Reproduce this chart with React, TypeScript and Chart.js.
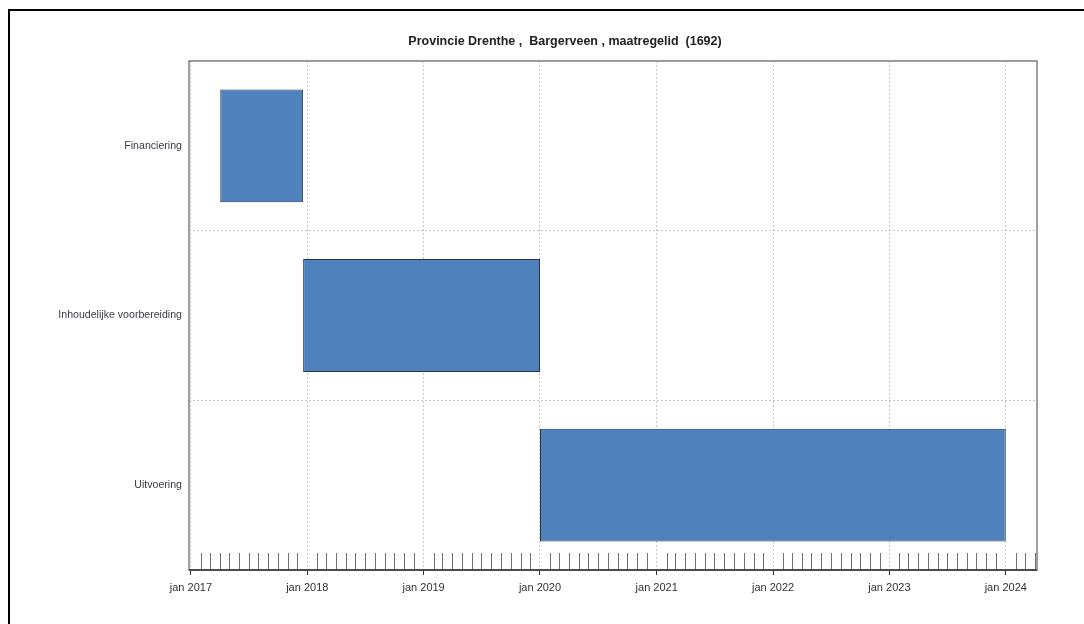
import React, { useEffect, useRef } from "react";
import { Chart, registerables } from "chart.js";

Chart.register(...registerables);

const TITLE = "Provincie Drenthe ,  Bargerveen , maatregelid  (1692)";
const categories = ["Financiering", "Inhoudelijke voorbereiding", "Uitvoering"];
const startDates = ["2017-04-03", "2017-12-19", "2020-01-01"];
const endDates = ["2017-12-19", "2020-01-01", "2024-01-01"];
const tickYears = [2017, 2018, 2019, 2020, 2021, 2022, 2023, 2024];
const tickMonthName = "jan";
const axisStart = "2016-12-26";
const axisEnd = "2024-04-08";

const ORIGIN = Date.UTC(2017, 0, 1);
const DAY = 86400000;
const toDays = (s: string) => (Date.parse(s + "T00:00:00Z") - ORIGIN) / DAY;
const ymToDays = (y: number, m: number) => (Date.UTC(y, m, 1) - ORIGIN) / DAY;

const FONT = "Arial, 'Liberation Sans', sans-serif";

const LEFT_PAD = 20;
const RIGHT_PAD = 47;
const TOP_PAD = 61;
const PLOT_LEFT = 189;

const decorPlugin = {
  id: "decor",
  afterDatasetsDraw(chart: any) {
    const xs = chart.scales.x;
    const area = chart.chartArea;
    const ctx = chart.ctx;
    ctx.save();
    ctx.strokeStyle = "#707070";
    ctx.lineWidth = 1;
    ctx.beginPath();
    for (let y = tickYears[0] - 1; y <= tickYears[tickYears.length - 1]; y++) {
      for (let m = 1; m < 12; m++) {
        const v = ymToDays(y, m);
        if (v < xs.min || v > xs.max) continue;
        const px = Math.round(xs.getPixelForValue(v)) + 0.5;
        ctx.moveTo(px, area.bottom - 17);
        ctx.lineTo(px, area.bottom);
      }
    }
    ctx.stroke();
    ctx.restore();
  },
  afterDraw(chart: any) {
    const a = chart.chartArea;
    const ctx = chart.ctx;
    ctx.save();
    ctx.strokeStyle = "#808080";
    ctx.lineWidth = 1.5;
    ctx.strokeRect(a.left, a.top, a.right - a.left, a.bottom - a.top);
    ctx.strokeStyle = "#333333";
    ctx.beginPath();
    ctx.moveTo(a.left, a.bottom);
    ctx.lineTo(a.right, a.bottom);
    ctx.stroke();
    // chart title
    ctx.fillStyle = "#222222";
    ctx.font = `bold 12.5px ${FONT}`;
    ctx.textAlign = "center";
    ctx.textBaseline = "middle";
    ctx.fillText(TITLE, 565, 42);
    ctx.restore();
  },
};

export default function App() {
  const ref = useRef<HTMLCanvasElement | null>(null);

  useEffect(() => {
    if (!ref.current) return;
    const data = categories.map((_, i) => [toDays(startDates[i]), toDays(endDates[i])]);
    const chart = new Chart(ref.current, {
      type: "bar",
      data: {
        labels: categories,
        datasets: [
          {
            data: data as any,
            backgroundColor: "#4F81BD",
            borderColor: "#25364a",
            borderWidth: 1,
            borderSkipped: false,
            categoryPercentage: 1,
            barPercentage: 0.665,
          },
        ],
      },
      options: {
        indexAxis: "y",
        responsive: false,
        animation: false,
        layout: { padding: { left: LEFT_PAD, right: RIGHT_PAD, top: TOP_PAD, bottom: 0 } },
        plugins: {
          legend: { display: false },
          tooltip: { enabled: false },
          title: { display: false },
        },
        scales: {
          x: {
            type: "linear",
            position: "bottom",
            min: toDays(axisStart),
            max: toDays(axisEnd),
            offset: false,
            afterBuildTicks(scale: any) {
              scale.ticks = tickYears.map((y) => ({ value: ymToDays(y, 0) }));
            },
            afterFit(scale: any) {
              scale.height = 54;
            },
            ticks: {
              autoSkip: false,
              maxRotation: 0,
              padding: 6,
              color: "#333333",
              font: { family: FONT, size: 11 },
              callback: (_v: any, i: number) => `${tickMonthName} ${tickYears[i]}`,
            },
            grid: {
              display: true,
              drawOnChartArea: true,
              drawTicks: true,
              color: "#c8c8c8",
              lineWidth: 1,
              tickLength: 5,
              tickColor: "#333333",
              tickWidth: 1,
              tickBorderDash: [],
            },
            border: { display: false, dash: [2, 2] },
          },
          y: {
            type: "category",
            offset: true,
            afterFit(scale: any) {
              scale.width = PLOT_LEFT - LEFT_PAD;
            },
            ticks: {
              padding: 7,
              color: "#3a3a48",
              font: { family: FONT, size: 10.6 },
            },
            grid: {
              display: true,
              offset: true,
              drawTicks: false,
              color: "#c8c8c8",
              lineWidth: 1,
            },
            border: { display: false, dash: [2, 2] },
          },
        },
      },
      plugins: [decorPlugin],
    } as any);
    return () => chart.destroy();
  }, []);

  return (
    <div
      style={{
        position: "fixed",
        left: 0,
        top: 0,
        width: 1084,
        height: 624,
        overflow: "hidden",
        background: "#ffffff",
      }}
    >
      <div
        style={{
          position: "absolute",
          left: 8,
          top: 9,
          width: 1200,
          height: 800,
          borderTop: "2px solid #000",
          borderLeft: "2px solid #000",
        }}
      />
      <canvas
        ref={ref}
        width={1084}
        height={624}
        style={{ position: "absolute", left: 0, top: 0, display: "block" }}
      />
    </div>
  );
}
